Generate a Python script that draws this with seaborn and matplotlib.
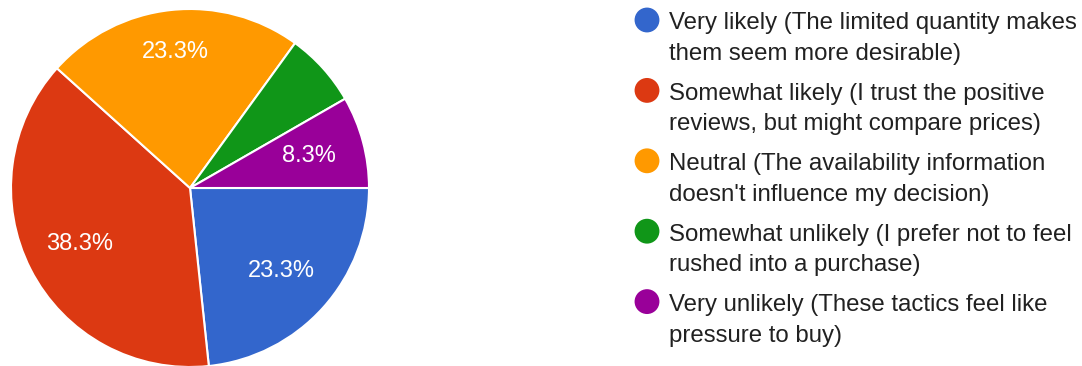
import matplotlib
matplotlib.use("Agg")
import matplotlib.pyplot as plt
import seaborn as sns

sns.set_theme(style="white")
plt.rcParams["font.family"] = ["Liberation Sans", "DejaVu Sans"]

# Survey responses (share of 60 respondents, %)
categories = [
    "Very likely (The limited quantity makes\nthem seem more desirable)",
    "Somewhat likely (I trust the positive\nreviews, but might compare prices)",
    "Neutral (The availability information\ndoesn't influence my decision)",
    "Somewhat unlikely (I prefer not to feel\nrushed into a purchase)",
    "Very unlikely (These tactics feel like\npressure to buy)",
]
shares = [23.3, 38.3, 23.3, 6.7, 8.3]
colors = ["#3366cc", "#dc3912", "#ff9900", "#109618", "#990099"]

W, H, DPI = 1082, 366, 100
fig = plt.figure(figsize=(W / DPI, H / DPI), dpi=DPI)
fig.patch.set_facecolor("white")

# Pie axes: center (190, 188) px, radius 179 px
cx, cy, r = 190, 188, 179
ax = fig.add_axes([(cx - r) / W, (H - cy - r) / H, 2 * r / W, 2 * r / H])

def fmt(p):
    return f"{p:.1f}%" if p >= 7.5 else ""

wedges, texts, autotexts = ax.pie(
    shares,
    colors=colors,
    startangle=0,
    counterclock=False,
    radius=1.0,
    autopct=fmt,
    pctdistance=0.69,
    wedgeprops=dict(edgecolor="white", linewidth=1.5),
    textprops=dict(color="white", fontsize=17),
)
for w in wedges:
    w.set_clip_on(False)
# the wide orange slice carries its label a little farther out
x, y = autotexts[2].get_position()
autotexts[2].set_position((x * 1.11, y * 1.11))
ax.set_xlim(-1, 1)
ax.set_ylim(-1, 1)
ax.set_aspect("equal")
ax.axis("off")

# Legend drawn in pixel coordinates
lg = fig.add_axes([0, 0, 1, 1])
lg.set_xlim(0, W)
lg.set_ylim(H, 0)
lg.axis("off")
lg.patch.set_alpha(0)
y0, step, line_gap = 20, 70.4, 30.5
for i, (lab, col) in enumerate(zip(categories, colors)):
    y = y0 + i * step
    lg.scatter([647], [y], s=320, color=col, edgecolors="none")
    for j, line in enumerate(lab.split("\n")):
        lg.text(669, y + j * line_gap + 9.5, line, fontsize=17.3,
                color="#212121", va="baseline", ha="left")

fig.savefig("out.png", dpi=DPI, facecolor="white")
